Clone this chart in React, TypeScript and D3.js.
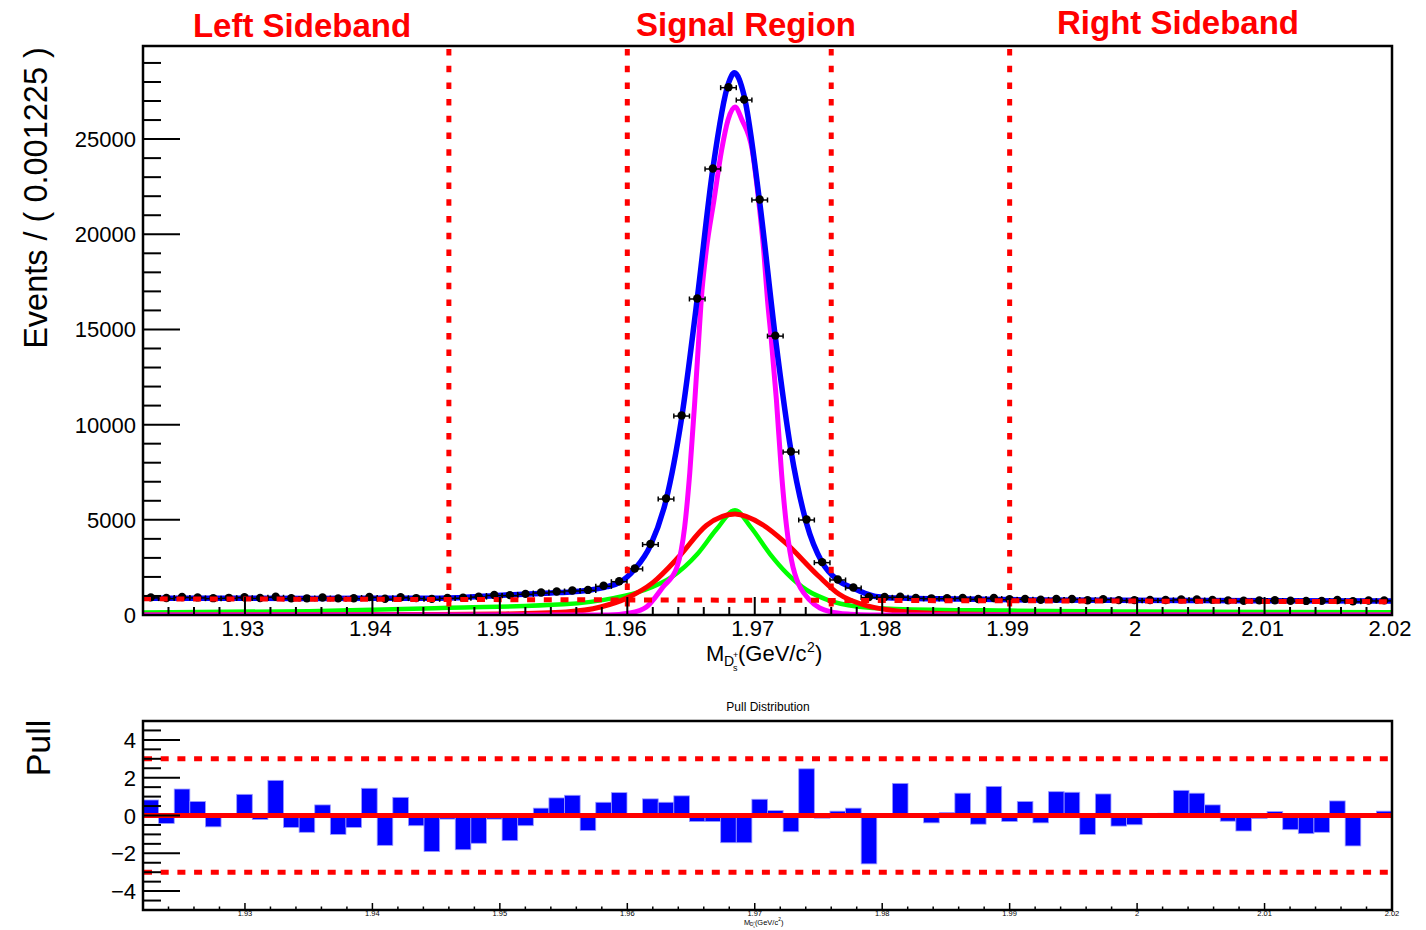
import { useEffect, useRef } from "react";
import * as d3 from "d3";

// ---- data ----
const massRange: [number, number] = [1.922, 2.02];
const binWidth = 0.001225; // 80 bins

const eventCounts = [
  899, 863, 916, 897, 858, 875, 908, 869, 930, 857,
  849, 892, 846, 857, 918, 829, 904, 862, 822, 872,
  880, 939, 1024, 1017, 1082, 1153, 1212, 1261, 1291, 1507,
  1750, 2420, 3700, 6090, 10450, 16600, 23430, 27700, 27050, 21800,
  14650, 8560, 4990, 2750, 1840, 1420, 920, 920, 930, 870,
  849, 855, 874, 817, 864, 801, 821, 777, 820, 816,
  750, 807, 756, 754, 765, 765, 795, 787, 767, 742,
  726, 742, 750, 722, 714, 715, 759, 693, 736, 741,
];

const pullValues = [
  0.82, -0.42, 1.4, 0.74, -0.6, 0.0, 1.12, -0.21, 1.86, -0.63,
  -0.89, 0.56, -1.0, -0.63, 1.44, -1.58, 0.96, -0.54, -1.91, -0.19,
  -1.81, -1.47, -0.19, -1.33, -0.54, 0.39, 0.93, 1.07, -0.79, 0.7,
  1.21, 0.0, 0.88, 0.7, 1.04, -0.32, -0.32, -1.44, -1.44, 0.86,
  0.26, -0.86, 2.47, -0.14, 0.23, 0.39, -2.56, 0.0, 1.7, 0.0,
  -0.39, 0.16, 1.18, -0.46, 1.54, -0.32, 0.74, -0.39, 1.26, 1.23,
  -1.0, 1.14, -0.56, -0.49, 0.0, 0.12, 1.33, 1.18, 0.56, -0.3,
  -0.82, -0.16, 0.21, -0.75, -0.96, -0.89, 0.77, -1.61, 0.0, 0.23,
];

// total fit (blue)
const totalFit: [number, number][] = [
  [1.922, 877], [1.935, 872], [1.9453, 880], [1.9505, 1050], [1.954, 1160],
  [1.9558, 1224], [1.9571, 1313], [1.9584, 1486], [1.95936, 1700], [1.96059, 2420],
  [1.96181, 3650], [1.96304, 6035], [1.96426, 10345], [1.96549, 16640], [1.96671, 23430],
  [1.96794, 27940], [1.9684, 28480], [1.96916, 27290], [1.97039, 21673], [1.97161, 14620],
  [1.97284, 8640], [1.97406, 4820], [1.97529, 2757], [1.97651, 1830], [1.97774, 1405],
  [1.9793, 1000], [1.98019, 925], [1.9819, 880], [1.9859, 840], [1.9921, 790], [2.02, 735],
];

// narrow gaussian (magenta)
const coreGauss: [number, number][] = [
  [1.922, 0], [1.95, 0], [1.9585, 0], [1.9602, 105], [1.9615, 420], [1.9628, 1470],
  [1.9639, 2520], [1.9645, 4620], [1.9649, 7460], [1.9653, 11290], [1.9656, 14440],
  [1.9658, 16540], [1.9662, 19170], [1.9668, 21800], [1.9674, 24420], [1.9679, 26000],
  [1.96845, 26680], [1.969, 26000], [1.9698, 24420], [1.9703, 21800], [1.9707, 19170],
  [1.971, 16540], [1.9713, 14440], [1.9717, 11290], [1.9721, 7460], [1.9725, 4620],
  [1.973, 2520], [1.9743, 790], [1.9759, 180], [1.9775, 40], [1.979, 0], [2.02, 0],
];

// wide gaussian (red)
const wideGauss: [number, number][] = [
  [1.922, 0], [1.945, 20], [1.95, 50], [1.9552, 160], [1.9579, 420], [1.96, 900],
  [1.962, 1700], [1.9641, 3100], [1.9662, 4700], [1.96845, 5300], [1.9706, 4750],
  [1.9724, 3800], [1.975, 2050], [1.9766, 1100], [1.979, 450], [1.9816, 180],
  [1.985, 60], [1.99, 15], [2.02, 0],
];

// long-tailed component (green)
const tailComp: [number, number][] = [
  [1.922, 130], [1.935, 200], [1.946, 380], [1.955, 560], [1.959, 900], [1.9613, 1300],
  [1.9635, 2000], [1.9655, 3200], [1.967, 4500], [1.96845, 5500], [1.9697, 4600],
  [1.9712, 3200], [1.9725, 2200], [1.9741, 1300], [1.9757, 800], [1.978, 450],
  [1.981, 320], [1.99, 230], [2.0, 180], [2.02, 140],
];

// background (red dashed)
const bkgFit: [number, number][] = [[1.922, 850], [2.02, 700]];

const sidebandEdges = [1.946, 1.96, 1.976, 1.99];
const massTicks = [1.93, 1.94, 1.95, 1.96, 1.97, 1.98, 1.99, 2, 2.01, 2.02];
const eventTicks = [0, 5000, 10000, 15000, 20000, 25000];
const pullTicks = [-4, -2, 0, 2, 4];
const pullBands = [-3, 3];

const FONT = "'Liberation Sans', Arial, Helvetica, sans-serif";

export default function App() {
  const svgRef = useRef<SVGSVGElement | null>(null);

  useEffect(() => {
    if (!svgRef.current) return;
    const svg = d3.select(svgRef.current);
    svg.selectAll("*").remove();

    const main = { left: 143, right: 1392, top: 46, bottom: 615 };
    const pull = { left: 143, right: 1392, top: 721, bottom: 910 };

    const x = d3.scaleLinear().domain(massRange).range([main.left, main.right]);
    const y = d3.scaleLinear().domain([0, 29890]).range([main.bottom, main.top]);
    const yp = d3.scaleLinear().domain([-5, 5]).range([pull.bottom, pull.top]);
    const fmtMass = (v: number) => String(+v.toFixed(2));

    const defs = svg.append("defs");
    defs.append("clipPath").attr("id", "clip-main").append("rect")
      .attr("x", main.left).attr("y", main.top)
      .attr("width", main.right - main.left).attr("height", main.bottom - main.top);
    defs.append("clipPath").attr("id", "clip-pull").append("rect")
      .attr("x", pull.left).attr("y", pull.top)
      .attr("width", pull.right - pull.left).attr("height", pull.bottom - pull.top);

    svg.append("rect").attr("width", 1426).attr("height", 930).attr("fill", "#fff");

    // ---------- main plot ----------
    const plot = svg.append("g").attr("clip-path", "url(#clip-main)");
    const line = d3.line<[number, number]>()
      .x((d) => x(d[0]))
      .y((d) => y(d[1]))
      .curve(d3.curveMonotoneX);

    const curves: [[number, number][], string, number][] = [
      [tailComp, "#00ff00", 4.5],
      [wideGauss, "#ff0000", 5],
      [coreGauss, "#ff00ff", 5],
      [totalFit, "#0000ff", 5.5],
    ];
    curves.forEach(([pts, color, w]) => {
      plot.append("path")
        .attr("d", line(pts))
        .attr("fill", "none")
        .attr("stroke", color)
        .attr("stroke-width", w)
        .attr("stroke-linejoin", "round");
    });

    // data points with errors
    const pts = plot.append("g").attr("stroke", "#000").attr("fill", "#000");
    eventCounts.forEach((n, i) => {
      const c = massRange[0] + (i + 0.5) * binWidth;
      const cx = x(c);
      const cy = y(n);
      const x0 = x(c - binWidth / 2);
      const x1 = x(c + binWidth / 2);
      const err = Math.sqrt(n);
      pts.append("line").attr("x1", x0).attr("x2", x1).attr("y1", cy).attr("y2", cy).attr("stroke-width", 1.5);
      pts.append("line").attr("x1", x0).attr("x2", x0).attr("y1", cy - 2.5).attr("y2", cy + 2.5).attr("stroke-width", 1.5);
      pts.append("line").attr("x1", x1).attr("x2", x1).attr("y1", cy - 2.5).attr("y2", cy + 2.5).attr("stroke-width", 1.5);
      pts.append("line").attr("x1", cx).attr("x2", cx).attr("y1", y(n + err)).attr("y2", y(n - err)).attr("stroke-width", 1.5);
      pts.append("circle").attr("cx", cx).attr("cy", cy - 0.5).attr("r", 4.2).attr("stroke", "none");
    });

    plot.append("path")
      .attr("d", d3.line<[number, number]>().x((d) => x(d[0])).y((d) => y(d[1]))(bkgFit))
      .attr("fill", "none")
      .attr("stroke", "#ff0000")
      .attr("stroke-width", 5)
      .attr("stroke-dasharray", "8 8.7");

    sidebandEdges.forEach((m) => {
      svg.append("line")
        .attr("x1", x(m)).attr("x2", x(m))
        .attr("y1", main.top + 3).attr("y2", main.bottom - 3)
        .attr("stroke", "#ff0000")
        .attr("stroke-width", 5)
        .attr("stroke-dasharray", "6.5 10.2");
    });

    // axes main
    const axes = svg.append("g").attr("stroke", "#000").attr("stroke-width", 2);
    d3.range(0, 29001, 1000).forEach((v) => {
      const len = v % 5000 === 0 ? 37 : 18;
      axes.append("line").attr("x1", main.left).attr("x2", main.left + len).attr("y1", y(v)).attr("y2", y(v));
    });
    d3.range(962, 1011).forEach((k) => {
      const v = k * 0.002;
      const len = k % 5 === 0 ? 18 : 8;
      axes.append("line").attr("x1", x(v)).attr("x2", x(v)).attr("y1", main.bottom).attr("y2", main.bottom - len);
    });
    svg.append("rect")
      .attr("x", main.left).attr("y", main.top)
      .attr("width", main.right - main.left).attr("height", main.bottom - main.top)
      .attr("fill", "none").attr("stroke", "#000").attr("stroke-width", 2.5);

    const txt = svg.append("g").attr("font-family", FONT).attr("fill", "#000");
    eventTicks.forEach((v) => {
      txt.append("text").attr("x", 136).attr("y", y(v) + 8).attr("text-anchor", "end")
        .attr("font-size", 22).text(String(v));
    });
    massTicks.forEach((v) => {
      txt.append("text").attr("x", x(v) - 2).attr("y", 636).attr("text-anchor", "middle")
        .attr("font-size", 22).text(fmtMass(v));
    });
    txt.append("text")
      .attr("transform", "translate(47,198) rotate(-90)")
      .attr("text-anchor", "middle").attr("font-size", 32.5)
      .text("Events / ( 0.001225 )");

    const massTitle = (g: d3.Selection<SVGGElement, unknown, null, undefined>) => {
      g.append("text").attr("x", 0).attr("y", 0).attr("font-size", 22).text("M");
      g.append("text").attr("x", 18).attr("y", 5).attr("font-size", 14).text("D");
      g.append("text").attr("x", 27).attr("y", -3).attr("font-size", 9).text("+");
      g.append("text").attr("x", 27).attr("y", 10).attr("font-size", 9).text("s");
      g.append("text").attr("x", 32).attr("y", 0).attr("font-size", 22).text("(GeV/c");
      g.append("text").attr("x", 101).attr("y", -9).attr("font-size", 14).text("2");
      g.append("text").attr("x", 109).attr("y", 0).attr("font-size", 22).text(")");
    };
    massTitle(txt.append("g").attr("transform", "translate(706,661)"));

    const regions: [string, number, number][] = [
      ["Left Sideband", 302, 36.5],
      ["Signal Region", 746, 36],
      ["Right Sideband", 1178, 33.5],
    ];
    regions.forEach(([label, cx, by]) => {
      svg.append("text").attr("x", cx).attr("y", by).attr("text-anchor", "middle")
        .attr("font-family", FONT).attr("font-weight", "bold").attr("font-size", 33)
        .attr("fill", "#ff0000").text(label);
    });

    // ---------- pull plot ----------
    const pplot = svg.append("g").attr("clip-path", "url(#clip-pull)");
    pullValues.forEach((p, i) => {
      const lo = massRange[0] + i * binWidth;
      pplot.append("rect")
        .attr("x", x(lo)).attr("width", x(lo + binWidth) - x(lo))
        .attr("y", yp(Math.max(p, 0))).attr("height", Math.abs(yp(p) - yp(0)))
        .attr("fill", "#0000ff").attr("stroke", "#9a9aff").attr("stroke-width", 0.8);
    });
    pplot.append("line")
      .attr("x1", pull.left).attr("x2", pull.right).attr("y1", yp(0)).attr("y2", yp(0))
      .attr("stroke", "#ff0000").attr("stroke-width", 5);
    pullBands.forEach((b) => {
      pplot.append("line")
        .attr("x1", pull.left + 1).attr("x2", pull.right).attr("y1", yp(b)).attr("y2", yp(b))
        .attr("stroke", "#ff0000").attr("stroke-width", 5).attr("stroke-dasharray", "8 8.7");
    });

    const paxes = svg.append("g").attr("stroke", "#000");
    d3.range(-9, 10).forEach((k) => {
      const v = k * 0.5;
      const major = k % 4 === 0;
      paxes.append("line").attr("x1", pull.left).attr("x2", pull.left + (major ? 37 : 18))
        .attr("y1", yp(v)).attr("y2", yp(v)).attr("stroke-width", 2);
    });
    d3.range(962, 1011).forEach((k) => {
      const v = k * 0.002;
      const len = k % 5 === 0 ? 7 : 3.5;
      paxes.append("line").attr("x1", x(v)).attr("x2", x(v)).attr("y1", pull.bottom).attr("y2", pull.bottom - len)
        .attr("stroke-width", 1.5);
    });
    svg.append("rect")
      .attr("x", pull.left).attr("y", pull.top)
      .attr("width", pull.right - pull.left).attr("height", pull.bottom - pull.top)
      .attr("fill", "none").attr("stroke", "#000").attr("stroke-width", 2.5);

    pullTicks.forEach((v) => {
      txt.append("text").attr("x", 136).attr("y", yp(v) + 8).attr("text-anchor", "end")
        .attr("font-size", 22).text(v < 0 ? `\u2212${-v}` : String(v));
    });
    massTicks.forEach((v) => {
      txt.append("text").attr("x", x(v)).attr("y", 916).attr("text-anchor", "middle")
        .attr("font-size", 7.5).text(fmtMass(v));
    });
    txt.append("text")
      .attr("transform", "translate(50,748) rotate(-90)")
      .attr("text-anchor", "middle").attr("font-size", 34)
      .text("Pull");
    txt.append("text").attr("x", 768).attr("y", 711).attr("text-anchor", "middle")
      .attr("font-size", 12).text("Pull Distribution");
    massTitle(txt.append("g").attr("transform", "translate(744,924.5) scale(0.34)"));
  }, []);

  return (
    <svg
      ref={svgRef}
      width={1426}
      height={930}
      style={{ position: "absolute", left: 0, top: 0, display: "block" }}
    />
  );
}
